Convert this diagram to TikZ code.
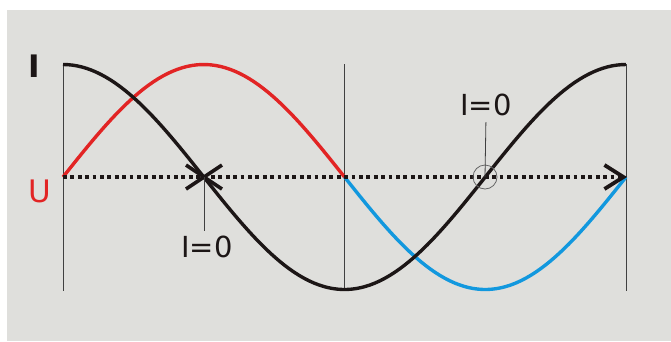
\documentclass[tikz,border=0pt]{standalone}
\usepackage{fontspec}
\setmainfont{DejaVu Sans}
\usetikzlibrary{arrows.meta}
\definecolor{uRed}{RGB}{226,36,36}
\definecolor{uBlue}{RGB}{18,152,222}
\definecolor{panelGray}{RGB}{223,223,220}
\definecolor{curveBlack}{RGB}{28,22,22}

\begin{document}
\begin{tikzpicture}[x=1pt, y=-1pt,
  wave/.style={line width=3.4pt},
  guide/.style={line width=0.8pt, black!75},
  lbl/.style={inner sep=0pt, font=\fontsize{29}{30}\selectfont}]
  \useasboundingbox (0,0) rectangle (671,341);
  \fill[panelGray] (7,10) rectangle (671,341);

  % vertical guides at 0, T/2, T
  \foreach \x/\n in {63/a, 344.5/b, 626/c} {
    \coordinate (top\n) at (\x,64);
    \coordinate (bot\n) at (\x,291);
    \draw[guide] (top\n) -- (bot\n);
  }

  % U: red half above, blue half below
  \draw[wave, uRed] plot[domain=0:180, samples=60] ({63+1.5639*\x}, {177-112.5*sin(\x)});
  \draw[wave, uBlue] plot[domain=180:360, samples=60] ({63+1.5639*\x}, {177-112.5*sin(\x)});
  % I: shifted by a quarter period
  \draw[wave, curveBlack] plot[domain=0:360, samples=120] ({63+1.5639*\x}, {177-112.5*cos(\x)});

  % time axis
  \coordinate (axisL) at (63,177);
  \coordinate (axisR) at (627,177);
  \draw[curveBlack, line width=3.6pt, dash pattern=on 3.8pt off 3.6pt,
        -{Straight Barb[length=19pt, width=24pt, line width=3.8pt]}] (axisL) -- (axisR);

  % zero crossings of I
  \coordinate (zeroA) at (204,177);
  \draw[curveBlack, line width=3.6pt] (zeroA) ++(-18,-12) -- ++(36,24)
                                      (zeroA) ++(-18,12) -- ++(36,-24);
  \node[draw=black!60, line width=0.8pt, circle, minimum size=24pt, inner sep=0pt] (ring) at (485,177) {};

  % labels
  \node[lbl, font=\fontsize{31}{32}\selectfont\bfseries, text=curveBlack] (ilbl) at (34,66) {I};
  \node[lbl, font=\fontsize{31}{32}\selectfont, text=uRed] (ulbl) at (40,191) {U};
  \node[lbl, text=curveBlack] (zlblA) at (207,247) {I=0};
  \node[lbl, text=curveBlack] (zlblB) at (486,105) {I=0};
  \draw[guide, shorten >=5pt] (zeroA) -- (zeroA |- zlblA.north);
  \draw[guide, shorten >=6pt] (ring.center) -- (zlblB.south);
\end{tikzpicture}
\end{document}
